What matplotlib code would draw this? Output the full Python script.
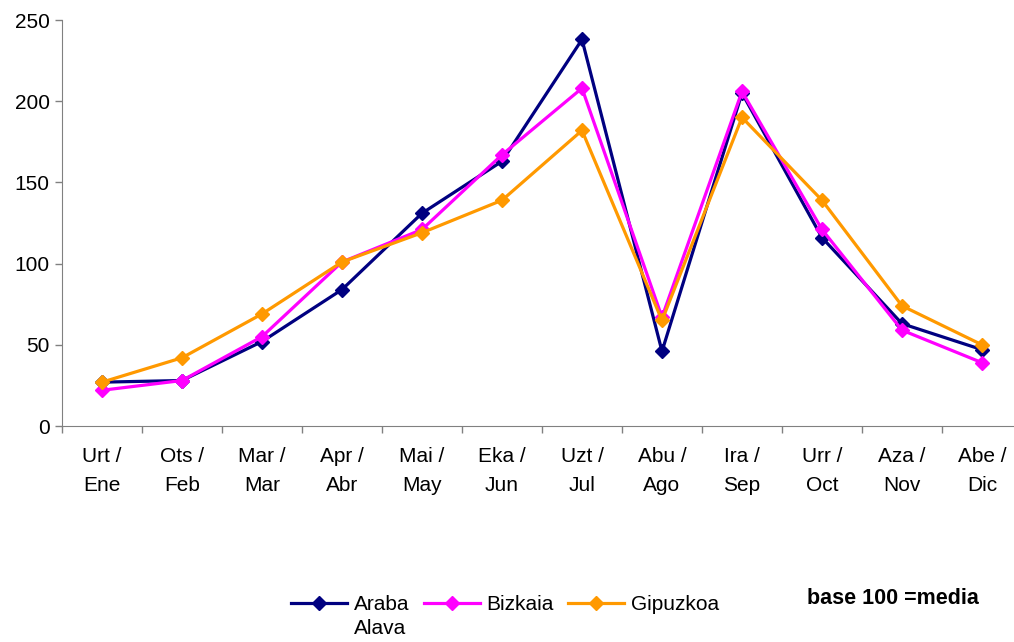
import matplotlib.pyplot as plt

plt.rcParams['font.family'] = ['Liberation Sans', 'DejaVu Sans']

months = ['Urt /\nEne', 'Ots /\nFeb', 'Mar /\nMar', 'Apr /\nAbr', 'Mai /\nMay', 'Eka /\nJun',
          'Uzt /\nJul', 'Abu /\nAgo', 'Ira /\nSep', 'Urr /\nOct', 'Aza /\nNov', 'Abe /\nDic']
araba = [27, 28, 52, 84, 131, 163, 238, 46, 205, 116, 63, 47]
bizkaia = [22, 28, 55, 101, 121, 167, 208, 67, 206, 121, 59, 39]
gipuzkoa = [27, 42, 69, 101, 119, 139, 182, 65, 190, 139, 74, 50]

fig = plt.figure(figsize=(10.14, 6.42), dpi=100)
W, H = 1014, 642
ax = fig.add_axes([62 / W, 1 - 426 / H, (1022 - 62) / W, (426 - 20) / H])

x = range(len(months))
ax.plot(x, araba, color='#000080', lw=2.3, marker='D', ms=7.5, label='Araba')
ax.plot(x, bizkaia, color='#FF00FF', lw=2.3, marker='D', ms=7.5, label='Bizkaia')
ax.plot(x, gipuzkoa, color='#FF9900', lw=2.3, marker='D', ms=7.5, label='Gipuzkoa')

ax.set_xlim(-0.5, 11.5)
ax.set_ylim(0, 250)
ax.set_yticks([0, 50, 100, 150, 200, 250])
ax.tick_params(axis='y', direction='out', length=5, width=1, color='#808080', labelsize=15, pad=4)

# boundary ticks without labels, category labels on minor ticks
ax.set_xticks([i + 0.5 for i in range(-1, 12)])
ax.set_xticklabels([])
ax.tick_params(axis='x', which='major', direction='out', length=5, width=1, color='#808080')
ax.set_xticks(list(x), minor=True)
ax.set_xticklabels(months, minor=True, fontsize=15, linespacing=1.7)
ax.tick_params(axis='x', which='minor', length=0, pad=15)

for s in ['top', 'right']:
    ax.spines[s].set_visible(False)
for s in ['left', 'bottom']:
    ax.spines[s].set_color('#808080')

leg = fig.legend(loc='center', bbox_to_anchor=(505 / W, 1 - 605 / H), ncol=3, frameon=False,
                 fontsize=15, handlelength=2.7, handletextpad=0.3, columnspacing=0.7,
                 borderpad=0, borderaxespad=0)
fig.canvas.draw()
bb = leg.get_texts()[0].get_window_extent()
fig.text(bb.x0 / W, (bb.y0 - 5) / H, 'Alava', fontsize=15, va='top', ha='left')

fig.text(807 / W, 1 - 598 / H, 'base 100 =media', fontsize=15.5, fontweight='bold', va='center')

fig.savefig('out.png', dpi=100)
